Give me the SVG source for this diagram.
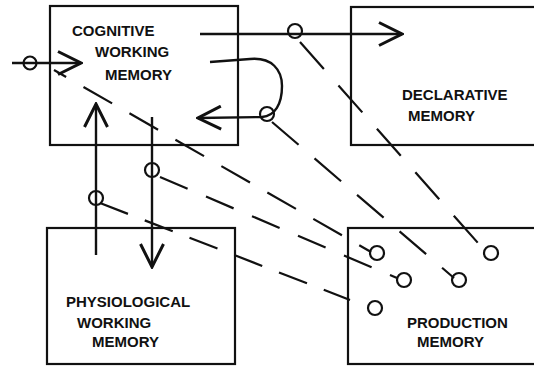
<svg xmlns="http://www.w3.org/2000/svg" width="534" height="367" viewBox="0 0 534 367">
<style>
.box{fill:none;stroke:#111;stroke-width:2.2}
.lbl{font-family:"Liberation Sans",Arial,sans-serif;font-weight:bold;font-size:15px;fill:#111}
.arr{fill:none;stroke:#111;stroke-width:2.4}
.dash{fill:none;stroke:#111;stroke-width:2.2}
.ring{fill:none;stroke:#111;stroke-width:2.2}
</style>
<defs>
<marker id="ah" viewBox="0 0 26 26" refX="24" refY="13" markerWidth="26" markerHeight="26" markerUnits="userSpaceOnUse" orient="auto">
<path d="M1,1.5 L24,13 L1,24.5" fill="none" stroke="#111" stroke-width="3"/>
</marker>
</defs>
<rect width="534" height="367" fill="#fff"/>
<g id="cognitive">
<rect class="box" x="50" y="6" width="188" height="139"/>
<text class="lbl" x="72" y="35.5">COGNITIVE</text>
<text class="lbl" x="95" y="57">WORKING</text>
<text class="lbl" x="105" y="80">MEMORY</text>
</g>
<g id="declarative">
<rect class="box" x="351" y="7" width="200" height="138"/>
<text class="lbl" x="402" y="100">DECLARATIVE</text>
<text class="lbl" x="408" y="121">MEMORY</text>
</g>
<g id="physiological">
<rect class="box" x="47" y="228" width="188" height="136"/>
<text class="lbl" x="66" y="307">PHYSIOLOGICAL</text>
<text class="lbl" x="77" y="328">WORKING</text>
<text class="lbl" x="92" y="347">MEMORY</text>
</g>
<g id="production">
<rect class="box" x="348" y="228" width="200" height="136"/>
<text class="lbl" x="407" y="328">PRODUCTION</text>
<text class="lbl" x="417" y="347">MEMORY</text>
<circle class="ring" cx="377" cy="253" r="7"/>
<circle class="ring" cx="491" cy="253" r="7"/>
<circle class="ring" cx="404" cy="280" r="7"/>
<circle class="ring" cx="459" cy="280" r="7"/>
<circle class="ring" cx="375" cy="308" r="7"/>
</g>
<g id="connectors">
<path class="arr" d="M12,63 L81,63" marker-end="url(#ah)"/>
<circle class="ring" cx="30" cy="63" r="6.5"/>
<path class="arr" d="M200,34 L402,34" marker-end="url(#ah)"/>
<circle class="ring" cx="295" cy="31" r="7"/>
<path class="arr" d="M210,62 L250,59 C272,57 282,70 282,86 C282,104 275,116 262,117 L198,118" marker-end="url(#ah)"/>
<circle class="ring" cx="267" cy="114" r="7"/>
<path class="arr" d="M96,255 L96,104" marker-end="url(#ah)"/>
<circle class="ring" cx="96" cy="198" r="7"/>
<path class="arr" d="M152,117 L152,267" marker-end="url(#ah)"/>
<circle class="ring" cx="152" cy="170" r="7"/>
<path class="dash" d="M54,70 L371,252" stroke-dasharray="33 20" stroke-dashoffset="19"/>
<path class="dash" d="M300,42 L478,243" stroke-dasharray="36 22"/>
<path class="dash" d="M272,122 L454,278" stroke-dasharray="35 21"/>
<path class="dash" d="M160,177 L397,278" stroke-dasharray="30 20"/>
<path class="dash" d="M100,203 L350,300" stroke-dasharray="30 18"/>
</g>
</svg>
